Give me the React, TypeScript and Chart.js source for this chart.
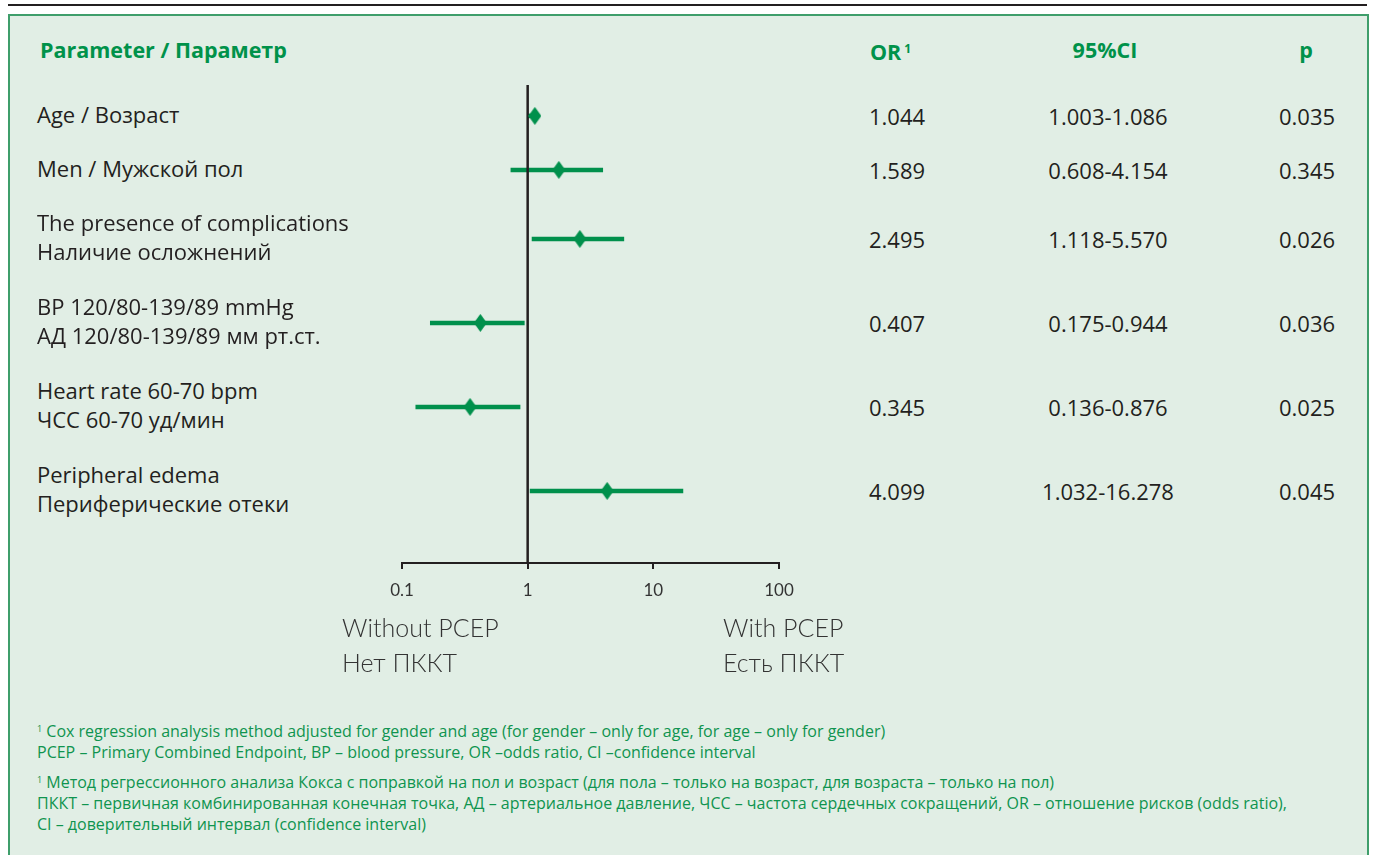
import React, { useEffect, useRef } from "react";
import { Chart, registerables } from "chart.js";

Chart.register(...registerables);

// ---------- data ----------
const parameterLabels: string[][] = [
  ["Age / Возраст"],
  ["Men / Мужской пол"],
  ["The presence of complications", "Наличие осложнений"],
  ["BP 120/80-139/89 mmHg", "АД 120/80-139/89 мм рт.ст."],
  ["Heart rate 60-70 bpm", "ЧСС 60-70 уд/мин"],
  ["Peripheral edema", "Периферические отеки"],
];
const orText = ["1.044", "1.589", "2.495", "0.407", "0.345", "4.099"];
const ciText = ["1.003-1.086", "0.608-4.154", "1.118-5.570", "0.175-0.944", "0.136-0.876", "1.032-16.278"];
const pText = ["0.035", "0.345", "0.026", "0.036", "0.025", "0.045"];
// values as drawn in the picture
const orPlotted = [1.14, 1.77, 2.6, 0.42, 0.348, 4.29];
const ciLowPlotted = [1.003, 0.731, 1.077, 0.167, 0.128, 1.04];
const ciHighPlotted = [1.086, 3.98, 5.86, 0.946, 0.875, 17.3];
const xTickValues = [0.1, 1, 10, 100];
const referenceValue = 1;

// ---------- layout ----------
const GREEN = "#00904c";
const DARK = "#231f20";
const ROW_GAP = 0.8; // in text-line units
const PX_PER_LINE = 30;
const PLOT_LEFT = 402;
const PLOT_RIGHT = 779;
const PLOT_TOP = 85;
const PLOT_BOTTOM = 563;
const CANVAS_L = 300;
const CANVAS_T = 60;
const CANVAS_W = 560;
const CANVAS_H = 600;
const X_AXIS_H = 50;
const Y_MIN = -0.13;
const Y_MAX = Y_MIN + (PLOT_BOTTOM - PLOT_TOP) / PX_PER_LINE;

const rowCenters: number[] = (() => {
  let acc = 0;
  return parameterLabels.map((l) => {
    const h = l.length + ROW_GAP;
    const c = acc + h / 2;
    acc += h;
    return c;
  });
})();
const rowPx = (c: number) => PLOT_TOP + (c - Y_MIN) * PX_PER_LINE;

function makeDiamond(w: number, h: number, color: string) {
  const c = document.createElement("canvas");
  c.width = w;
  c.height = h;
  const ctx = c.getContext("2d")!;
  ctx.fillStyle = color;
  ctx.beginPath();
  ctx.moveTo(w / 2, 0);
  ctx.lineTo(w, h / 2);
  ctx.lineTo(w / 2, h);
  ctx.lineTo(0, h / 2);
  ctx.closePath();
  ctx.fill();
  return c;
}

function ForestChart() {
  const ref = useRef<HTMLCanvasElement | null>(null);
  useEffect(() => {
    if (!ref.current) return;
    const diamond = makeDiamond(13, 18, GREEN);
    const whiskers = rowCenters.map((c, i) => ({
      type: "line" as const,
      data: [
        { x: ciLowPlotted[i], y: c },
        { x: ciHighPlotted[i], y: c },
      ],
      borderColor: GREEN,
      borderWidth: 4.5,
      pointRadius: 0,
      borderCapStyle: "butt" as const,
    }));
    const chart = new Chart(ref.current, {
      type: "scatter",
      data: {
        datasets: [
          {
            type: "scatter",
            data: rowCenters.map((c, i) => ({ x: orPlotted[i], y: c })),
            pointStyle: diamond as any,
            pointRadius: 9,
            backgroundColor: GREEN,
            borderColor: GREEN,
          },
          {
            type: "line",
            data: [
              { x: referenceValue, y: Y_MIN },
              { x: referenceValue, y: Y_MAX },
            ],
            borderColor: DARK,
            borderWidth: 2.5,
            pointRadius: 0,
          },
          ...whiskers,
        ] as any,
      },
      options: {
        animation: false,
        responsive: false,
        events: [],
        layout: {
          padding: {
            left: PLOT_LEFT - CANVAS_L,
            right: CANVAS_L + CANVAS_W - PLOT_RIGHT,
            top: PLOT_TOP - CANVAS_T,
            bottom: CANVAS_T + CANVAS_H - PLOT_BOTTOM - X_AXIS_H,
          },
        },
        plugins: { legend: { display: false }, tooltip: { enabled: false } },
        scales: {
          x: {
            type: "logarithmic",
            min: xTickValues[0],
            max: xTickValues[xTickValues.length - 1],
            afterBuildTicks: (s: any) => {
              s.ticks = xTickValues.map((v) => ({ value: v }));
            },
            afterFit: (s: any) => {
              s.height = X_AXIS_H;
            },
            grid: {
              drawOnChartArea: false,
              drawTicks: true,
              tickLength: 6,
              color: DARK,
              lineWidth: 2,
            },
            border: { display: true, color: DARK, width: 2 },
            ticks: {
              autoSkip: false,
              maxRotation: 0,
              padding: 11,
              color: "#333",
              font: { family: "Lato, 'Open Sans', sans-serif", size: 17 },
              callback: (v: any) => String(v),
            },
          },
          y: {
            type: "linear",
            display: false,
            reverse: true,
            min: Y_MIN,
            max: Y_MAX,
          },
        },
      } as any,
    });
    return () => chart.destroy();
  }, []);
  return (
    <canvas
      ref={ref}
      width={CANVAS_W}
      height={CANVAS_H}
      style={{ position: "absolute", left: CANVAS_L, top: CANVAS_T, width: CANVAS_W, height: CANVAS_H }}
    />
  );
}

const FONT = "'Open Sans', 'Noto Sans', sans-serif";

export default function App() {
  const headerStyle: React.CSSProperties = {
    position: "absolute",
    top: 50,
    color: "#00924a",
    fontWeight: 700,
    fontSize: 21.5,
    lineHeight: "26px",
    whiteSpace: "nowrap",
  };
  const cellStyle: React.CSSProperties = {
    position: "absolute",
    color: DARK,
    fontSize: 22,
    lineHeight: "26px",
    whiteSpace: "nowrap",
  };
  const footStyle: React.CSSProperties = {
    position: "absolute",
    left: 37,
    color: "#0f944f",
    fontSize: 16,
    lineHeight: "21px",
    whiteSpace: "nowrap",
  };
  const sideLabel: React.CSSProperties = {
    position: "absolute",
    top: 610,
    fontFamily: "Lato, 'Open Sans', sans-serif",
    fontWeight: 300,
    fontSize: 25,
    lineHeight: "35px",
    color: "#333",
    whiteSpace: "nowrap",
  };
  return (
    <div
      style={{
        position: "absolute",
        left: 0,
        top: 0,
        width: 1375,
        height: 855,
        overflow: "hidden",
        background: "#ffffff",
        fontFamily: FONT,
      }}
    >
      <div style={{ position: "absolute", left: 8, top: 4, width: 1359, height: 2, background: DARK }} />
      <div
        style={{
          position: "absolute",
          left: 8,
          top: 14,
          width: 1361,
          height: 870,
          background: "#e1eee5",
          border: "2px solid #3f9e6b",
          boxSizing: "border-box",
        }}
      />
      <ForestChart />

      <div style={{ ...headerStyle, left: 40, transform: "translateY(-50%)" }}>Parameter / Параметр</div>
      <div style={{ ...headerStyle, left: 870, transform: "translateY(-50%)" }}>
        OR<sup style={{ fontSize: 12, verticalAlign: "7px", marginLeft: 3 }}>1</sup>
      </div>
      <div style={{ ...headerStyle, left: 1105, transform: "translate(-50%,-50%)" }}>95%CI</div>
      <div style={{ ...headerStyle, left: 1306, transform: "translate(-50%,-50%)" }}>p</div>

      {parameterLabels.map((lines, i) => (
        <div
          key={"l" + i}
          style={{
            ...cellStyle,
            left: 37,
            top: rowPx(rowCenters[i]) - 2,
            lineHeight: PX_PER_LINE - 1 + "px",
            transform: "translateY(-50%)",
          }}
        >
          {lines.map((t, j) => (
            <div key={j}>{t}</div>
          ))}
        </div>
      ))}
      {orText.map((t, i) => (
        <div key={"o" + i} style={{ ...cellStyle, left: 869, top: rowPx(rowCenters[i]), transform: "translateY(-50%)" }}>
          {t}
        </div>
      ))}
      {ciText.map((t, i) => (
        <div key={"c" + i} style={{ ...cellStyle, left: 1108, top: rowPx(rowCenters[i]), transform: "translate(-50%,-50%)" }}>
          {t}
        </div>
      ))}
      {pText.map((t, i) => (
        <div key={"p" + i} style={{ ...cellStyle, left: 1307, top: rowPx(rowCenters[i]), transform: "translate(-50%,-50%)" }}>
          {t}
        </div>
      ))}

      <div style={{ ...sideLabel, left: 342 }}>
        <div>Without PCEP</div>
        <div>Нет ПККТ</div>
      </div>
      <div style={{ ...sideLabel, left: 723 }}>
        <div>With PCEP</div>
        <div>Есть ПККТ</div>
      </div>

      <div style={{ ...footStyle, top: 718 }}>
        <div>
          <sup style={{ fontSize: 9, verticalAlign: "5px" }}>1</sup> Cox regression analysis method adjusted for gender and
          age (for gender – only for age, for age – only for gender)
        </div>
        <div>PCEP – Primary Combined Endpoint, BP – blood pressure, OR –odds ratio, CI –confidence interval</div>
      </div>
      <div style={{ ...footStyle, top: 769 }}>
        <div>
          <sup style={{ fontSize: 9, verticalAlign: "5px" }}>1</sup> Метод регрессионного анализа Кокса с поправкой на пол
          и возраст (для пола – только на возраст, для возраста – только на пол)
        </div>
        <div>
          ПККТ – первичная комбинированная конечная точка, АД – артериальное давление, ЧСС – частота сердечных
          сокращений, OR – отношение рисков (odds ratio),
        </div>
        <div>CI – доверительный интервал (confidence interval)</div>
      </div>
    </div>
  );
}
